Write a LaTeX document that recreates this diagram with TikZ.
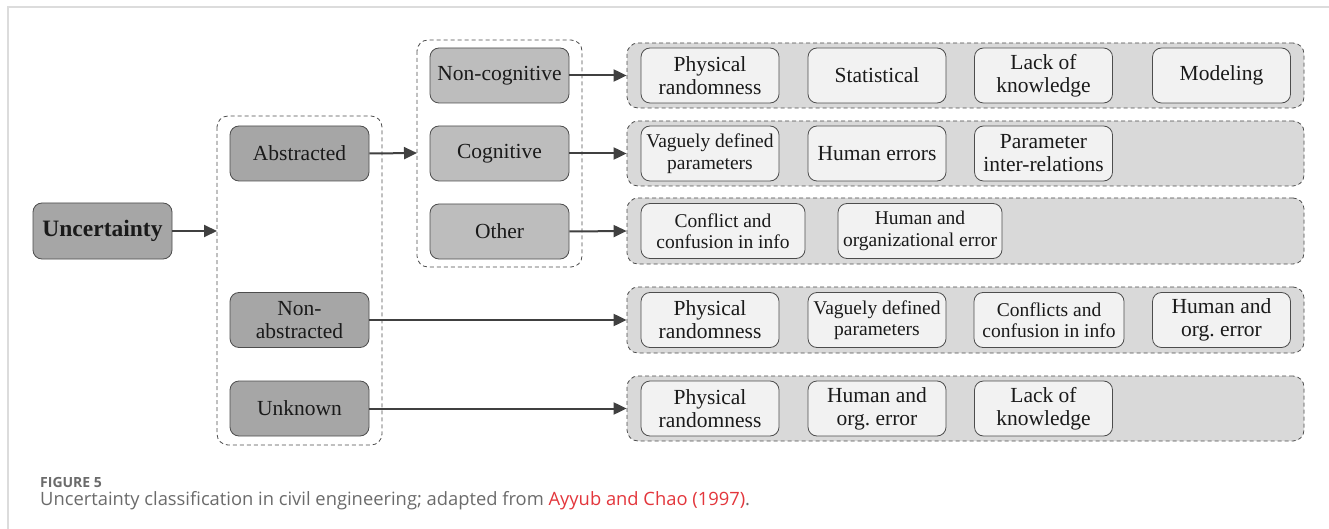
\documentclass[tikz,border=0pt]{standalone}
\usepackage{fontspec}
\setmainfont{Liberation Serif}
\newfontfamily\capfont{Open Sans}
\usetikzlibrary{arrows.meta}
\definecolor{boxline}{HTML}{4D4D4D}
\definecolor{darkfill}{HTML}{A6A6A6}
\definecolor{midfill}{HTML}{BDBDBD}
\definecolor{rowfill}{HTML}{D9D9D9}
\definecolor{leaffill}{HTML}{F2F2F2}
\definecolor{arrowcol}{HTML}{404040}
\definecolor{labeltext}{HTML}{1A1A1A}
\definecolor{capgray}{HTML}{6B6B6B}
\definecolor{capred}{HTML}{E3363C}
\definecolor{framegray}{HTML}{DCDCDC}
\tikzset{
  base/.style={rounded corners=9pt, draw=boxline, line width=0.8pt, align=center,
    inner sep=0pt, text=labeltext, font=\fontsize{21.5}{23}\selectfont},
  rootbox/.style={base, fill=darkfill, minimum width=139pt, minimum height=56pt,
    font=\fontsize{23.5}{25}\selectfont\bfseries},
  levelone/.style={base, fill=darkfill, minimum width=139pt, minimum height=55pt},
  leveltwo/.style={base, fill=midfill, minimum width=139pt, minimum height=55pt},
  leaf/.style={base, fill=leaffill, minimum width=138pt, minimum height=55pt},
  smallleaf/.style={leaf, font=\fontsize{19.5}{21.5}\selectfont},
  group/.style={rounded corners=11pt, draw=boxline, line width=0.8pt,
    dash pattern=on 4pt off 3pt},
  rowband/.style={group, fill=rowfill},
  link/.style={draw=arrowcol, line width=2pt,
    -{Triangle[length=13pt,width=12pt]}},
}
\begin{document}
\begin{tikzpicture}[x=1pt,y=-1pt]
  \useasboundingbox (0,0) rectangle (1329,529);
  \fill[white] (0,0) rectangle (1329,529);
  % frame of the figure panel
  \draw[framegray, line width=1.2pt] (8,529) -- (8,7) -- (1329,7);

  % dashed group frames
  \draw[group] (217,116) rectangle (382,445);
  \draw[group] (417,40) rectangle (582,267);
  \node[rowband, minimum width=677pt, minimum height=65pt, inner sep=0pt] (r1) at (965.5,75.5) {};
  \node[rowband, minimum width=677pt, minimum height=65pt, inner sep=0pt] (r2) at (965.5,153.5) {};
  \node[rowband, minimum width=677pt, minimum height=66pt, inner sep=0pt] (r3) at (965.5,231) {};
  \node[rowband, minimum width=677pt, minimum height=66pt, inner sep=0pt] (r4) at (965.5,320) {};
  \node[rowband, minimum width=677pt, minimum height=65pt, inner sep=0pt] (r5) at (965.5,408.5) {};
  \coordinate (g1) at (217,231);
  \coordinate (g2) at (417,153);

  % main hierarchy
  \node[rootbox] (unc) at (102.5,231) {Uncertainty};
  \node[levelone] (abs) at (299.5,153.5) {Abstracted};
  \node[levelone] (nab) at (299.5,320) {Non-\\abstracted};
  \node[levelone] (unk) at (299.5,408.5) {Unknown};
  \node[leveltwo] (ncog) at (499.5,75.5) {Non-cognitive};
  \node[leveltwo] (cog) at (499.5,153.5) {Cognitive};
  \node[leveltwo] (oth) at (499.5,231.5) {Other};

  % row 1
  \node[leaf] (a1) at (710,75.5) {Physical\\randomness};
  \node[leaf] (a2) at (877,75.5) {Statistical};
  \node[leaf] (a3) at (1043.5,75.5) {Lack of\\knowledge};
  \node[leaf] (a4) at (1221.5,75.5) {Modeling};
  % row 2
  \node[smallleaf] (b1) at (710,153.5) {Vaguely defined\\parameters};
  \node[leaf] (b2) at (877,153.5) {Human errors};
  \node[leaf] (b3) at (1043.5,153.5) {Parameter\\inter-relations};
  % row 3
  \node[smallleaf, minimum width=164pt] (c1) at (723,231) {Conflict and\\confusion in info};
  \node[smallleaf, minimum width=164pt] (c2) at (920,231) {Human and\\organizational error};
  % row 4
  \node[leaf] (d1) at (710,320) {Physical\\randomness};
  \node[smallleaf] (d2) at (877,320) {Vaguely defined\\parameters};
  \node[smallleaf, minimum width=150pt] (d3) at (1049,320) {Conflicts and\\confusion in info};
  \node[leaf] (d4) at (1221.5,320) {Human and\\org.\ error};
  % row 5
  \node[leaf] (e1) at (710,408.5) {Physical\\randomness};
  \node[leaf] (e2) at (877,408.5) {Human and\\org.\ error};
  \node[leaf] (e3) at (1043.5,408.5) {Lack of\\knowledge};

  % connectors
  \draw[link] (unc.east) -- (g1);
  \draw[link] (abs.east) -- (g2);
  \draw[link] (ncog.east) -- (r1.west);
  \draw[link] (cog.east) -- (r2.west);
  \draw[link] (oth.east) -- (r3.west);
  \draw[link] (nab.east) -- (r4.west);
  \draw[link] (unk.east) -- (r5.west);

  % caption
  \node[anchor=base west, inner sep=0pt, text=capgray,
        font=\capfont\fontsize{14}{16}\selectfont\bfseries] (fig) at (40,487) {FIGURE 5};
  \node[anchor=base west, inner sep=0pt, text=capgray,
        font=\capfont\fontsize{18.35}{20}\selectfont] (cap) at (40,505)
    {Uncertainty classification in civil engineering; adapted from \textcolor{capred}{Ayyub and Chao (1997)}.};
\end{tikzpicture}
\end{document}
